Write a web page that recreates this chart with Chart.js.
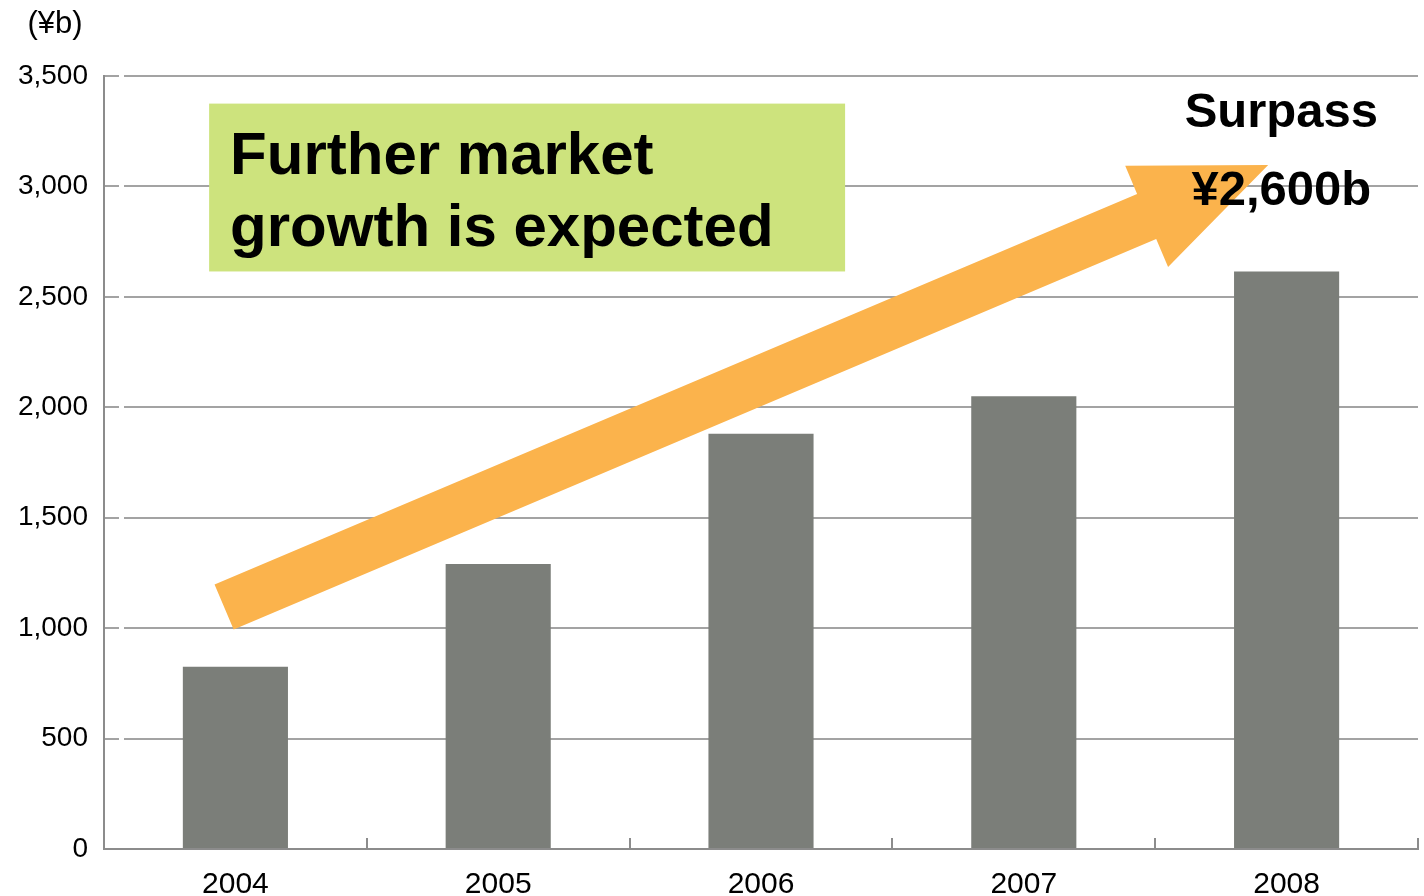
<!DOCTYPE html>
<html>
<head>
<meta charset="utf-8">
<script src="https://cdn.jsdelivr.net/npm/chart.js@4.4.0/dist/chart.umd.min.js"></script>
<style>
    html, body { margin: 0; padding: 0; background: #fff; }
    #wrap { width: 1424px; height: 896px; }
</style>
</head>
<body>
<div id="wrap"><canvas id="market-chart" width="1424" height="896"></canvas></div>
<script>
( function () {
    'use strict';

    // market size per year, ¥ billions
    var years      = [ '2004', '2005', '2006', '2007', '2008' ];
    var marketSize = [ 825, 1290, 1880, 2050, 2615 ];
    var yTicks     = [ 0, 500, 1000, 1500, 2000, 2500, 3000, 3500 ];

    var unitLabel    = '(¥b)';
    var calloutLines = [ 'Further market', 'growth is expected' ];
    var targetLines  = [ 'Surpass', '¥2,600b' ];

    var FONT = '"Liberation Sans", Arial, sans-serif';

    // growth arrow, in axis units (category index, ¥b)
    var arrowTail = [ -0.043, 1096 ];
    var arrowTip  = [ 3.93, 3097 ];

    var overlay = {
        id: 'overlay',
        afterDatasetsDraw: function ( chart ) {
            var ctx  = chart.ctx;
            var xs   = chart.scales.x;
            var ys   = chart.scales.y;
            var area = chart.chartArea;
            var i;

            ctx.save();

            // small upward ticks between categories
            ctx.strokeStyle = '#8c8c8c';
            ctx.lineWidth = 2;
            ctx.beginPath();
            for ( i = 0; i < years.length; i++ ) {
                var bx = Math.round( xs.getPixelForValue( i + 0.5 ) );
                ctx.moveTo( bx, area.bottom );
                ctx.lineTo( bx, area.bottom - 11 );
            }
            ctx.stroke();

            // unit label above the y axis
            ctx.fillStyle = '#000';
            ctx.font = '31px ' + FONT;
            ctx.textAlign = 'center';
            ctx.textBaseline = 'alphabetic';
            ctx.fillText( unitLabel, area.left - 49, area.top - 43 );

            // arrow
            var p0 = { x: xs.getPixelForValue( arrowTail[0] ), y: ys.getPixelForValue( arrowTail[1] ) };
            var p1 = { x: xs.getPixelForValue( arrowTip[0] ),  y: ys.getPixelForValue( arrowTip[1] ) };
            var dx = p1.x - p0.x, dy = p1.y - p0.y;
            var len = Math.sqrt( dx * dx + dy * dy );
            var ux = dx / len, uy = dy / len;
            var nx = -uy, ny = ux;
            var shaft = 24.5, head = 55, headLen = 132;
            var bxp = p1.x - ux * headLen, byp = p1.y - uy * headLen;

            ctx.fillStyle = '#fbb34c';
            ctx.beginPath();
            ctx.moveTo( p0.x + nx * shaft, p0.y + ny * shaft );
            ctx.lineTo( bxp + nx * shaft, byp + ny * shaft );
            ctx.lineTo( bxp + nx * head, byp + ny * head );
            ctx.lineTo( p1.x, p1.y );
            ctx.lineTo( bxp - nx * head, byp - ny * head );
            ctx.lineTo( bxp - nx * shaft, byp - ny * shaft );
            ctx.lineTo( p0.x - nx * shaft, p0.y - ny * shaft );
            ctx.closePath();
            ctx.fill();

            // green callout box
            var gx0 = xs.getPixelForValue( -0.1 );
            var gx1 = xs.getPixelForValue( 2.32 );
            var gy0 = ys.getPixelForValue( 3375 );
            var gy1 = ys.getPixelForValue( 2615 );
            ctx.fillStyle = '#cde37d';
            ctx.fillRect( gx0, gy0, gx1 - gx0, gy1 - gy0 );

            ctx.fillStyle = '#000';
            ctx.font = 'bold 60px ' + FONT;
            ctx.textAlign = 'left';
            ctx.fillText( calloutLines[0], gx0 + 21, gy0 + 70 );
            ctx.fillText( calloutLines[1], gx0 + 21, gy0 + 142 );

            // target label at the arrow head
            var tx = xs.getPixelForValue( 3.98 );
            ctx.font = 'bold 49px ' + FONT;
            ctx.textAlign = 'center';
            ctx.fillText( targetLines[0], tx, ys.getPixelForValue( 3269 ) );
            ctx.fillText( targetLines[1], tx, ys.getPixelForValue( 2916 ) );

            ctx.restore();
        },
    };

    new Chart( document.getElementById( 'market-chart' ), {
        type: 'bar',
        data: {
            labels: years,
            datasets: [ {
                data: marketSize,
                backgroundColor: '#7b7e79',
                borderWidth: 0,
                barPercentage: 0.4,
                categoryPercentage: 1,
            } ],
        },
        options: {
            responsive: false,
            animation: false,
            devicePixelRatio: 1,
            layout: { padding: { top: 76, right: 6, left: 0, bottom: 0 } },
            plugins: {
                legend: { display: false },
                tooltip: { enabled: false },
            },
            scales: {
                x: {
                    grid: { display: false },
                    border: { display: true, color: '#8c8c8c', width: 2 },
                    ticks: { color: '#000', font: { family: FONT, size: 30 }, padding: 10, maxRotation: 0 },
                    afterFit: function ( s ) { s.height = 47; },
                },
                y: {
                    min: 0,
                    max: 3500,
                    afterBuildTicks: function ( s ) {
                        s.ticks = yTicks.map( function ( v ) { return { value: v }; } );
                    },
                    afterFit: function ( s ) { s.width = 104; },
                    grid: {
                        drawTicks: false,
                        lineWidth: 2,
                        color: function ( c ) { return c.tick && c.tick.value === 0 ? 'rgba(0,0,0,0)' : '#a3a3a3'; },
                    },
                    border: { display: true, color: '#8c8c8c', width: 2, dash: [ 14, 5, 4000, 1 ] },
                    ticks: {
                        color: '#000',
                        font: { family: FONT, size: 28 },
                        padding: 16,
                        callback: function ( v ) { return Number( v ).toLocaleString( 'en-US' ); },
                    },
                },
            },
        },
        plugins: [ overlay ],
    } );
} )();
</script>
</body>
</html>
